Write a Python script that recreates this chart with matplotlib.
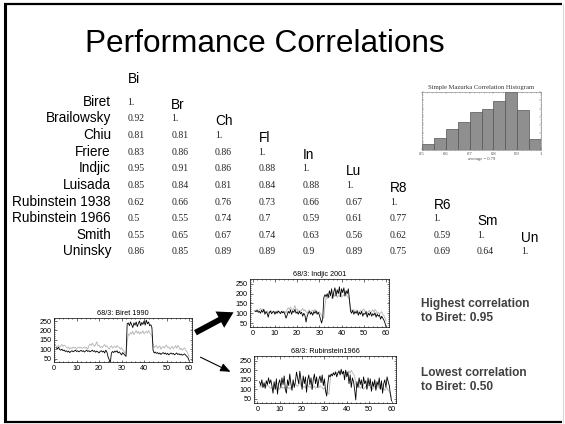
import numpy as np
import matplotlib
matplotlib.use("Agg")
import matplotlib.pyplot as plt
from matplotlib.ticker import MultipleLocator, AutoMinorLocator
from matplotlib.patches import FancyArrowPatch

plt.rcParams['font.family'] = ['Liberation Sans', 'DejaVu Sans']

# ---------------- data ----------------
title = "Performance Correlations"
row_labels = ["Biret", "Brailowsky", "Chiu", "Friere", "Indjic", "Luisada",
              "Rubinstein 1938", "Rubinstein 1966", "Smith", "Uninsky"]
col_labels = ["Bi", "Br", "Ch", "Fl", "In", "Lu", "R8", "R6", "Sm", "Un"]
corr = [
    ["1."],
    ["0.92", "1."],
    ["0.81", "0.81", "1."],
    ["0.83", "0.86", "0.86", "1."],
    ["0.95", "0.91", "0.86", "0.88", "1."],
    ["0.85", "0.84", "0.81", "0.84", "0.88", "1."],
    ["0.62", "0.66", "0.76", "0.73", "0.66", "0.67", "1."],
    ["0.5", "0.55", "0.74", "0.7", "0.59", "0.61", "0.77", "1."],
    ["0.55", "0.65", "0.67", "0.74", "0.63", "0.56", "0.62", "0.59", "1."],
    ["0.86", "0.85", "0.89", "0.89", "0.9", "0.89", "0.75", "0.69", "0.64", "1."],
]

hist_edges = [0.5, 0.55, 0.6, 0.65, 0.7, 0.75, 0.8, 0.85, 0.9, 0.95, 1.0]
hist_counts = [18, 36, 62, 84, 114, 123, 147, 175, 120, 33]
hist_ticks = [0.5, 0.6, 0.7, 0.8, 0.9, 1.0]
hist_ticklabels = ["0.5", "0.6", "0.7", "0.8", "0.9", "1"]

# tempo curves, sampled every half measure starting at measure 1
average = [115, 112, 120, 110, 118, 125, 115, 122, 118, 110, 105, 112, 100, 108, 104, 112,
           106, 110, 100, 108, 112, 106, 110, 104, 108, 112, 105, 110, 100, 118, 128, 120,
           132, 122, 115, 125, 140, 118, 122, 110, 115, 108, 118, 125, 112, 118, 108, 100,
           112, 118, 105, 112, 115, 108, 120, 112, 110, 100, 108, 98, 90, 80, 75, 140,
           180, 175, 190, 182, 195, 178, 188, 200, 185, 195, 180, 192, 185, 198, 182, 190,
           195, 185, 200, 188, 180, 170, 130, 108, 115, 120, 105, 112, 118, 100, 110, 115,
           105, 118, 122, 108, 112, 100, 108, 115, 102, 110, 118, 105, 120, 112, 98, 105,
           95, 102, 108, 95, 88, 75, 60]
biret = [108, 102, 110, 98, 95, 100, 92, 96, 88, 92, 85, 90, 82, 88, 92, 86,
         90, 95, 88, 92, 86, 90, 94, 88, 92, 85, 90, 95, 88, 92, 86, 90,
         95, 88, 92, 84, 90, 86, 80, 88, 92, 85, 90, 80, 95, 85, 60, 45,
         25, 80, 88, 82, 90, 85, 92, 80, 86, 78, 70, 82, 75, 68, 62, 235,
         240, 225, 245, 230, 215, 240, 228, 245, 220, 238, 250, 225, 242, 232, 250, 228,
         255, 235, 245, 225, 230, 215, 95, 80, 85, 78, 82, 75, 80, 72, 78, 82,
         75, 80, 72, 78, 70, 76, 80, 74, 78, 70, 75, 80, 72, 76, 70, 74,
         68, 72, 75, 68, 62, 55, 40]
indjic = [112, 108, 115, 105, 110, 100, 115, 105, 120, 95, 108, 100, 80, 105, 112, 98,
          105, 110, 95, 108, 100, 112, 105, 98, 110, 102, 108, 95, 75, 90, 110, 100,
          118, 95, 112, 105, 120, 100, 108, 95, 110, 98, 105, 85, 100, 90, 55, 85,
          100, 110, 95, 105, 90, 108, 100, 112, 95, 105, 90, 70, 50, 75, 180, 195,
          185, 200, 180, 215, 190, 225, 175, 210, 230, 190, 220, 200, 235, 185, 225, 205,
          230, 190, 215, 200, 225, 170, 110, 100, 115, 95, 108, 100, 112, 90, 105, 95,
          110, 85, 100, 95, 108, 80, 100, 90, 105, 85, 98, 90, 102, 80, 95, 85,
          92, 70, 85, 75, 65, 50, 30]
rubinstein1966 = [140, 120, 150, 110, 135, 105, 145, 125, 160, 130, 150, 120, 80, 140, 100, 155,
                  75, 130, 150, 110, 160, 125, 170, 100, 80, 150, 120, 180, 130, 95, 150, 110,
                  140, 190, 160, 130, 195, 150, 100, 170, 130, 165, 85, 150, 175, 125, 160, 100,
                  150, 180, 130, 165, 110, 150, 170, 135, 175, 120, 155, 90, 65, 130, 175, 165,
                  180, 170, 185, 175, 190, 165, 185, 195, 175, 205, 180, 195, 150, 200, 165, 190,
                  130, 175, 110, 160, 140, 100, 45, 140, 110, 160, 125, 150, 105, 165, 130, 145,
                  100, 160, 120, 155, 90, 140, 115, 150, 95, 140, 120, 160, 100, 145, 80, 130,
                  150, 110, 165, 140, 120, 75, 40]

plots = [
    ("68/3: Biret 1990", biret),
    ("68/3: Indjic 2001", indjic),
    ("68/3: Rubinstein1966", rubinstein1966),
]
y_ticks = [50, 100, 150, 200, 250]
x_ticks = [0, 10, 20, 30, 40, 50, 60]

highest_text = "Highest correlation\nto Biret: 0.95"
lowest_text = "Lowest correlation\nto Biret: 0.50"

# ---------------- figure ----------------
W, H = 565, 424
fig = plt.figure(figsize=(W / 100, H / 100), dpi=100)
fig.patch.set_facecolor("white")

ov = fig.add_axes([0, 0, 1, 1])
ov.set_xlim(0, W)
ov.set_ylim(H, 0)
ov.axis("off")

# slide border
ov.plot([4.5, 4.5], [3.5, 421.5], color="black", lw=2.2, solid_capstyle="butt")
ov.plot([4, 562], [4, 4], color="black", lw=1.6, solid_capstyle="butt")
ov.plot([4, 562], [421.5, 421.5], color="black", lw=1.6, solid_capstyle="butt")
ov.plot([562.5, 562.5], [4, 421.5], color="#d8d8d8", lw=0.8)

ov.text(265, 44, title, fontsize=22.7, ha="center", va="center", color="black")

# correlation table
row_y0, row_dy = 101.7, 16.64
col_x0, col_dx = 127.5, 43.7
label_x = 111
for r, name in enumerate(row_labels):
    y = row_y0 + r * row_dy
    ov.text(label_x, y, name, fontsize=9.8, ha="right", va="center")
    for c, val in enumerate(corr[r]):
        ov.text(col_x0 + c * col_dx, y + 0.5, val, fontsize=7, ha="left", va="center",
                family=["Liberation Serif", "DejaVu Serif"], color="#222222")
for c, name in enumerate(col_labels):
    y = 79 if c == 0 else row_y0 + (c - 1) * row_dy + 3
    ov.text(col_x0 + c * col_dx, y, name, fontsize=9.8, ha="left", va="center")

# histogram inset
axh = fig.add_axes([422 / W, 1 - 150 / H, 119 / W, 58 / H])
axh.bar(hist_edges[:-1], hist_counts, width=np.diff(hist_edges), align="edge",
        color="#8f8f8f", edgecolor="#555555", linewidth=0.5)
axh.set_xlim(hist_edges[0], hist_edges[-1])
axh.set_ylim(0, max(hist_counts))
axh.set_xticks(hist_ticks)
axh.set_xticklabels(hist_ticklabels, family=["Liberation Serif"], fontsize=3.3, color="#444444")
axh.xaxis.set_minor_locator(AutoMinorLocator(5))
axh.yaxis.set_major_locator(MultipleLocator(25))
axh.yaxis.set_minor_locator(AutoMinorLocator(5))
axh.set_yticklabels([])
axh.tick_params(which="both", direction="in", top=True, right=True, length=1.2,
                width=0.3, color="#666666", pad=1.5)
axh.tick_params(which="minor", length=0.6)
for s in axh.spines.values():
    s.set_linewidth(0.4)
    s.set_color("#777777")
    s.set_linestyle((0, (1, 1)))
axh.set_title("Simple Mazurka Correlation Histogram", family=["Liberation Serif"],
              fontsize=4.8, pad=2.5, color="#333333")
axh.set_xlabel("average = 0.79", family=["Liberation Serif"], fontsize=3.3,
               labelpad=0.5, color="#444444")

# tempo plots
boxes = [
    ((54, 192, 318, 362), (0, 61.3), (32, 266)),
    ((250, 389, 279, 327), (-1.2, 61.3), (30, 275)),
    ((254, 396, 356, 403), (-1.5, 62), (29, 274)),
]
for (ttl, series), ((l, rgt, t, b), xl, yl) in zip(plots, boxes):
    ax = fig.add_axes([l / W, 1 - b / H, (rgt - l) / W, (b - t) / H])
    xs = 1 + 0.5 * np.arange(len(average))
    ax.plot(xs, average, color="#b4b4b4", lw=0.6)
    xs2 = 1 + 0.5 * np.arange(len(series))
    ax.plot(xs2, series, color="black", lw=0.6)
    ax.set_xlim(*xl)
    ax.set_ylim(*yl)
    ax.set_xticks(x_ticks)
    ax.set_yticks(y_ticks)
    ax.xaxis.set_minor_locator(AutoMinorLocator(5))
    ax.yaxis.set_minor_locator(AutoMinorLocator(5))
    ax.tick_params(which="both", direction="in", top=True, right=True,
                   labelsize=5.2, width=0.4, length=1.8, pad=2)
    ax.tick_params(which="minor", length=0.9)
    for s in ax.spines.values():
        s.set_linewidth(0.5)
    ax.set_title(ttl, fontsize=5.2, pad=2.5)

# arrows
ov.add_patch(FancyArrowPatch((193, 334), (236, 311),
                             arrowstyle="simple,head_width=1.9,head_length=1.6,tail_width=0.6",
                             mutation_scale=7, color="black", lw=0))
ov.add_patch(FancyArrowPatch((198, 356), (233, 373),
                             arrowstyle="-|>,head_width=0.25,head_length=0.6",
                             mutation_scale=10, color="black", lw=0.8))

ov.text(421, 311, highest_text, fontsize=8.6, fontweight="bold", color="#404040",
        ha="left", va="center", linespacing=1.3)
ov.text(421, 380, lowest_text, fontsize=8.6, fontweight="bold", color="#404040",
        ha="left", va="center", linespacing=1.3)

fig.savefig("out.png", dpi=100, facecolor="white")
